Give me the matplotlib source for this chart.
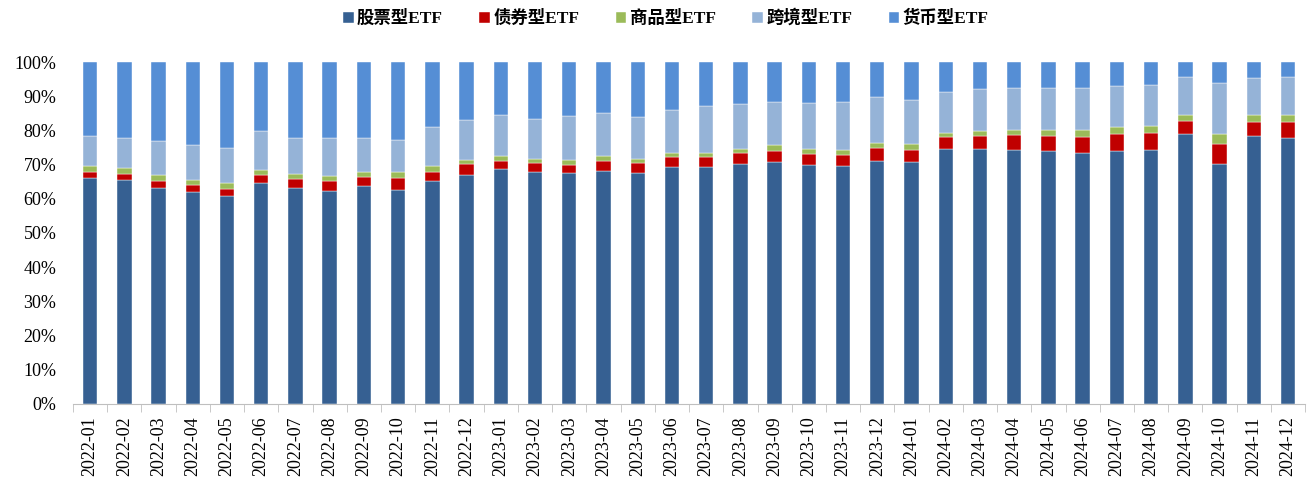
import numpy as np
import matplotlib
matplotlib.use('Agg')
import matplotlib.pyplot as plt
from matplotlib.ticker import PercentFormatter

plt.rcParams['font.family'] = ['Liberation Serif', 'Noto Sans CJK SC']

months = ['2022-01', '2022-02', '2022-03', '2022-04', '2022-05', '2022-06',
          '2022-07', '2022-08', '2022-09', '2022-10', '2022-11', '2022-12',
          '2023-01', '2023-02', '2023-03', '2023-04', '2023-05', '2023-06',
          '2023-07', '2023-08', '2023-09', '2023-10', '2023-11', '2023-12',
          '2024-01', '2024-02', '2024-03', '2024-04', '2024-05', '2024-06',
          '2024-07', '2024-08', '2024-09', '2024-10', '2024-11', '2024-12']

# share of each ETF type (%)
stock = [66.2, 65.6, 63.3, 62.1, 60.8, 64.7, 63.3, 62.4, 63.6, 62.7, 65.3, 67.0,
         68.8, 67.8, 67.5, 68.2, 67.5, 69.2, 69.2, 70.2, 70.8, 69.9, 69.5, 71.2,
         70.9, 74.7, 74.7, 74.4, 74.0, 73.4, 74.0, 74.4, 78.9, 70.2, 78.3, 77.7]
bond = [1.7, 1.7, 2.0, 1.9, 2.2, 2.3, 2.4, 2.9, 2.8, 3.5, 2.6, 3.2,
        2.3, 2.7, 2.4, 2.9, 3.0, 2.9, 2.9, 3.2, 3.3, 3.2, 3.4, 3.8,
        3.5, 3.3, 3.7, 4.3, 4.3, 4.6, 4.9, 4.8, 3.9, 5.8, 4.2, 4.8]
commodity = [1.6, 1.6, 1.7, 1.6, 1.7, 1.4, 1.6, 1.3, 1.4, 1.6, 1.6, 1.2,
             1.4, 1.2, 1.4, 1.3, 1.2, 1.3, 1.3, 1.3, 1.6, 1.6, 1.4, 1.3,
             1.6, 1.2, 1.4, 1.5, 1.9, 2.2, 2.0, 2.0, 1.6, 2.9, 1.9, 1.9]
cross = [8.8, 9.0, 9.9, 10.1, 10.3, 11.4, 10.6, 11.1, 10.1, 9.5, 11.4, 11.6,
         11.9, 11.5, 12.8, 12.7, 12.1, 12.7, 13.6, 12.9, 12.6, 13.3, 14.0, 13.6,
         13.0, 12.0, 12.4, 12.3, 12.3, 12.3, 12.0, 12.0, 11.3, 15.0, 11.0, 11.3]
money = [21.7, 22.1, 23.1, 24.3, 25.0, 20.2, 22.1, 22.3, 22.1, 22.7, 19.1, 17.0,
         15.6, 16.8, 15.9, 14.9, 16.2, 13.9, 13.0, 12.4, 11.7, 12.0, 11.7, 10.1,
         11.0, 8.8, 7.8, 7.5, 7.5, 7.5, 7.1, 6.8, 4.3, 6.1, 4.6, 4.3]

names = ['股票型ETF', '债券型ETF', '商品型ETF', '跨境型ETF', '货币型ETF']
colors = ['#366092', '#C00000', '#9BBB59', '#95B3D7', '#558ED5']

fig = plt.figure(figsize=(13.08, 4.83), dpi=100)
ax = fig.add_axes([0.0558, 0.1636, 0.942, 0.708])

x = np.arange(len(months))
bottom = np.zeros(len(months))
for vals, name, c in zip([stock, bond, commodity, cross, money], names, colors):
    v = np.array(vals)
    ax.bar(x, v, 0.42, bottom=bottom, color=c, label=name,
           edgecolor='white', linewidth=0.3)
    bottom += v

ax.set_xlim(-0.5, len(months) - 0.5)
ax.set_ylim(0, 100)
ax.set_yticks(np.arange(0, 101, 10))
ax.yaxis.set_major_formatter(PercentFormatter(100, decimals=0))
ax.set_xticks(x)
ax.set_xticklabels(months, rotation=90, fontsize=13)
ax.set_xticks(np.arange(-0.5, len(months), 1), minor=True)
ax.tick_params(axis='x', which='major', length=0, pad=9)
ax.tick_params(axis='x', which='minor', length=6, color='#BFBFBF')
ax.tick_params(axis='y', length=0, labelsize=13, pad=12)

for s in ['top', 'right', 'left']:
    ax.spines[s].set_visible(False)
ax.spines['bottom'].set_color('#BFBFBF')

fig.legend(loc='center', bbox_to_anchor=(0.509, 0.962), ncol=5,
           frameon=False, prop={'size': 12.5, 'weight': 'bold'},
           handlelength=0.6, handleheight=0.6,
           handletextpad=0.2, columnspacing=2.1)

fig.savefig('out.png', dpi=100)
